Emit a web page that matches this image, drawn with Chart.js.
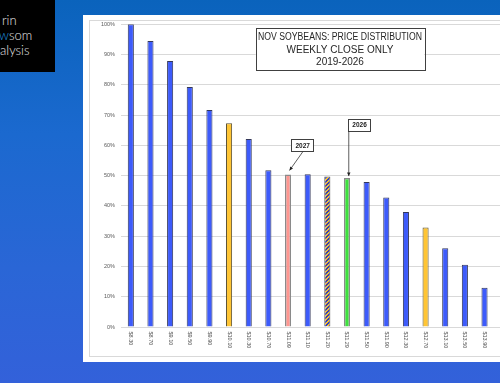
<!DOCTYPE html>
<html><head><meta charset="utf-8">
<script src="https://cdn.jsdelivr.net/npm/chart.js@4.4.1/dist/chart.umd.min.js"></script>
<style>
html,body{margin:0;padding:0;width:500px;height:383px;overflow:hidden;}
body{background:linear-gradient(180deg,#0a63bc 0%,#1b69cf 35%,#2a66d6 70%,#3361da 100%);position:relative;font-family:'Liberation Sans',Arial,sans-serif;}
#logo{position:absolute;left:0;top:0;width:55px;height:72px;background:#000;overflow:hidden;}
#logo span{position:absolute;white-space:nowrap;font-family:Lato,'Open Sans',sans-serif;font-weight:300;font-size:13px;color:#e6e6e6;line-height:1;}
#panel{position:absolute;left:83px;top:15px;width:460px;height:347px;background:#fff;}
#inner{position:absolute;left:6px;top:5px;width:460px;height:335px;border:1px solid #d9d9d9;}
#wrap{position:absolute;left:0;top:0;width:440px;height:347px;}
</style></head>
<body>
<div id="logo">
  <span style="left:2px;top:14px;">rin</span>
  <span style="left:-1px;top:29px;"><span style="position:static;color:#1e9be6;">w</span>som</span>
  <span style="left:0px;top:44px;">alysis</span>
</div>
<div id="panel"><div id="inner"></div><div id="wrap"><canvas id="c"></canvas></div></div>
<script>
const categories = ['$8.30','$8.70','$9.10','$9.50','$9.90','$10.10','$10.30','$10.70','$11.09','$11.10','$11.20','$11.29','$11.50','$11.90','$12.30','$12.70','$13.10','$13.50','$13.90','$14.30'];
const values = [100, 94.5, 87.9, 79.3, 71.7, 67.3, 62.1, 51.8, 50.4, 50.5, 49.7, 49.2, 47.9, 42.8, 38.0, 32.9, 26.0, 20.6, 13.0, 6.7];
const barKinds = ['blue','blue','blue','blue','blue','yellow','blue','blue','pink','blue','hatch','green','blue','blue','blue','yellow','blue','blue','blue','blue'];
const yTicks = [0,10,20,30,40,50,60,70,80,90,100];
const titleLines = ['NOV SOYBEANS: PRICE DISTRIBUTION','WEEKLY CLOSE ONLY','2019-2026'];
const callouts = [{label:'2027', category:'$11.09'},{label:'2026', category:'$11.29'}];

function hatchPattern(){
  const p = document.createElement('canvas'); p.width = 4; p.height = 4;
  const g = p.getContext('2d');
  for (let y = 0; y < 4; y++) for (let x = 0; x < 4; x++) {
    g.fillStyle = ((x + y) % 4 < 2) ? '#2a3fd0' : '#ffc21e';
    g.fillRect(x, y, 1, 1);
  }
  return g.createPattern(p,'repeat');
}
const fills = {blue:'#3d5bfb', yellow:'#ffc534', pink:'#ff9690', green:'#3de23d', hatch:hatchPattern()};
const borders = {blue:'#34385a', yellow:'#5a5030', pink:'#8a8a8a', green:'#8a8a8a', hatch:'#555555'};

const overlay = {
  id:'overlay',
  afterDraw(chart){
    const ctx = chart.ctx, xs = chart.scales.x, ys = chart.scales.y, ca = chart.chartArea;
    ctx.save();
    ctx.fillStyle = '#505050';
    ctx.font = '5.5px "Liberation Sans", Arial, sans-serif';
    ctx.textAlign = 'left'; ctx.textBaseline = 'middle';
    categories.forEach((c,i)=>{
      const x = xs.getPixelForValue(i);
      ctx.save(); ctx.translate(x, ca.bottom + 4.5); ctx.rotate(Math.PI/2);
      ctx.fillText(c, 0, 0); ctx.restore();
    });
    const bx = 172.7, by = 13.3, bw = 168.6, bh = 42.4;
    ctx.fillStyle = '#fff'; ctx.fillRect(bx, by, bw, bh);
    ctx.strokeStyle = '#404040'; ctx.lineWidth = 1;
    ctx.strokeRect(Math.round(bx)+0.5, Math.round(by)+0.5, Math.round(bw), Math.round(bh));
    ctx.fillStyle = '#262626'; ctx.textAlign = 'center'; ctx.textBaseline = 'middle';
    ctx.font = '10px "Liberation Sans", Arial, sans-serif';
    titleLines.forEach((t,i)=>{ ctx.fillText(t, bx + bw/2, by + 8.6 + i*12.9, 164); });
    callouts.forEach((co,k)=>{
      const i = categories.indexOf(co.category);
      const x = xs.getPixelForValue(i), top = ys.getPixelForValue(values[i]);
      let boxL, boxT, sx, sy, tx, ty;
      if (k === 0) { boxL = x + 3.3; boxT = top - 35; sx = x + 15; sy = boxT + 12; tx = x + 1.5; ty = top - 4; }
      else { boxL = x + 1.3; boxT = top - 59; sx = x + 1.8; sy = boxT + 12; tx = x + 1.8; ty = top - 2; }
      const w = 21.6, h = 11.6;
      ctx.fillStyle = '#fff'; ctx.fillRect(boxL, boxT, w, h);
      ctx.strokeStyle = '#404040'; ctx.lineWidth = 1;
      ctx.strokeRect(Math.round(boxL)+0.5, Math.round(boxT)+0.5, Math.round(w), Math.round(h));
      ctx.fillStyle = '#1a1a1a'; ctx.font = 'bold 6.5px "Liberation Sans", Arial, sans-serif';
      ctx.textAlign = 'center'; ctx.textBaseline = 'middle';
      ctx.fillText(co.label, boxL + w/2 + 0.5, boxT + h/2 + 0.8);
      ctx.strokeStyle = '#333'; ctx.lineWidth = 0.8;
      ctx.beginPath(); ctx.moveTo(sx, sy); ctx.lineTo(tx, ty); ctx.stroke();
      const ang = Math.atan2(ty - sy, tx - sx), L = 4, A = 0.45;
      ctx.fillStyle = '#222';
      ctx.beginPath(); ctx.moveTo(tx, ty);
      ctx.lineTo(tx - L*Math.cos(ang - A), ty - L*Math.sin(ang - A));
      ctx.lineTo(tx - L*Math.cos(ang + A), ty - L*Math.sin(ang + A));
      ctx.closePath(); ctx.fill();
    });
    ctx.restore();
  }
};

new Chart(document.getElementById('c'), {
  type:'bar',
  data:{
    labels: categories,
    datasets:[{
      data: values,
      backgroundColor: barKinds.map(k=>fills[k]),
      borderColor: barKinds.map(k=>borders[k]),
      borderWidth: barKinds.map(k=>(k==='pink'||k==='green')?1.5:1),
      categoryPercentage: 1,
      barPercentage: 0.31
    }]
  },
  options:{
    responsive:true, maintainAspectRatio:false, animation:false,
    layout:{padding:{left:0, top:9, right:9, bottom:0}},
    plugins:{legend:{display:false}, tooltip:{enabled:false}},
    scales:{
      x:{
        grid:{display:false}, border:{display:false},
        ticks:{display:false},
        afterFit(s){ s.height = 35; }
      },
      y:{
        min:0, max:100,
        afterBuildTicks(s){ s.ticks = yTicks.map(v=>({value:v})); },
        grid:{color:'#d9d9d9', lineWidth:1, drawTicks:false},
        border:{display:false},
        ticks:{padding:6, color:'#595959', font:{family:'"Liberation Sans", Arial, sans-serif', size:5.5}, callback:v=>v+'%'},
        afterFit(s){ s.width = 38; }
      }
    }
  },
  plugins:[overlay]
});
</script>
</body></html>
